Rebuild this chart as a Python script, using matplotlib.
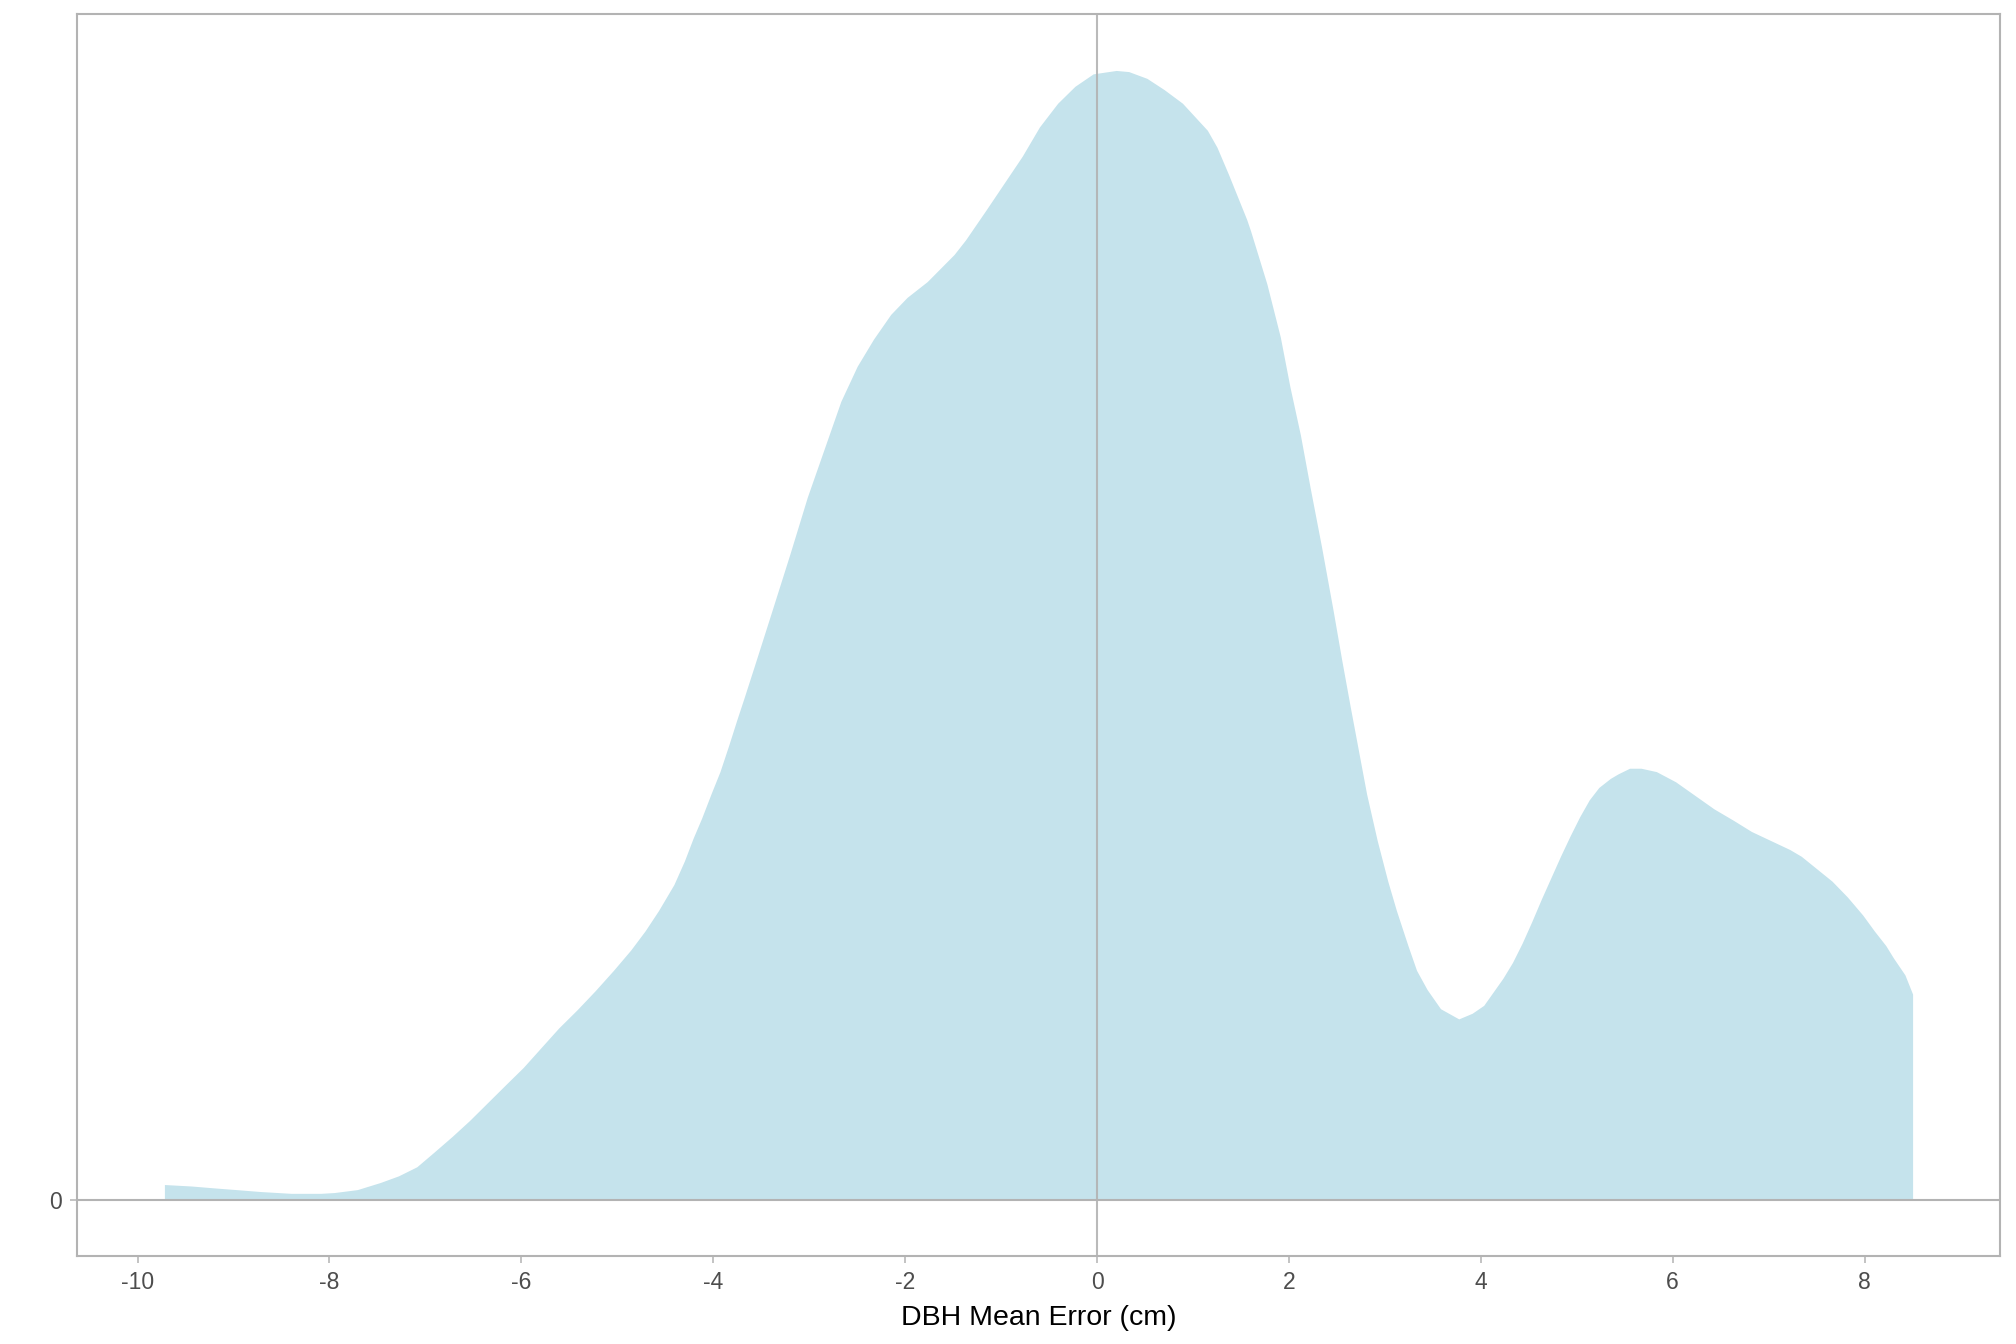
import matplotlib
matplotlib.use("Agg")
import matplotlib.pyplot as plt
import numpy as np

plt.rcParams['font.family'] = ['Liberation Sans', 'DejaVu Sans']

# Density curve of DBH mean error (relative density)
error_cm = [-9.72, -9.44, -9.20, -8.94, -8.72, -8.40, -8.09, -7.95, -7.71, -7.47,
            -7.28, -7.09, -6.91, -6.72, -6.54, -6.35, -6.16, -5.98, -5.79, -5.61,
            -5.42, -5.23, -5.04, -4.86, -4.71, -4.57, -4.41, -4.30, -4.21, -4.12,
            -4.02, -3.93, -3.84, -3.75, -3.68, -3.57, -3.39, -3.20, -3.02, -2.81,
            -2.67, -2.50, -2.33, -2.15, -1.98, -1.77, -1.63, -1.49, -1.37, -1.16,
            -0.97, -0.78, -0.60, -0.41, -0.23, -0.04, 0.20, 0.33, 0.52, 0.70,
            0.89, 1.15, 1.25, 1.37, 1.56, 1.60, 1.77, 1.91, 2.01, 2.12,
            2.22, 2.34, 2.46, 2.55, 2.64, 2.81, 2.92, 3.03, 3.12, 3.24,
            3.33, 3.44, 3.58, 3.77, 3.91, 4.03, 4.13, 4.23, 4.33, 4.43,
            4.53, 4.63, 4.73, 4.83, 4.93, 5.03, 5.13, 5.23, 5.35, 5.43,
            5.55, 5.67, 5.83, 6.03, 6.23, 6.43, 6.63, 6.82, 7.02, 7.22,
            7.34, 7.50, 7.66, 7.82, 7.98, 8.10, 8.22, 8.30, 8.42, 8.50]
density = [0.0133, 0.0120, 0.0103, 0.0086, 0.0071, 0.0055, 0.0055, 0.0062, 0.0088, 0.0151,
           0.021, 0.029, 0.042, 0.056, 0.070, 0.086, 0.102, 0.117, 0.135, 0.152,
           0.168, 0.185, 0.203, 0.221, 0.238, 0.256, 0.279, 0.300, 0.320, 0.338,
           0.360, 0.379, 0.402, 0.426, 0.444, 0.473, 0.521, 0.572, 0.622, 0.673,
           0.707, 0.738, 0.762, 0.784, 0.799, 0.813, 0.825, 0.837, 0.850, 0.876,
           0.900, 0.924, 0.950, 0.971, 0.986, 0.997, 1.000, 0.999, 0.993, 0.983,
           0.971, 0.947, 0.932, 0.908, 0.868, 0.858, 0.811, 0.764, 0.720, 0.677,
           0.631, 0.578, 0.522, 0.478, 0.436, 0.359, 0.318, 0.282, 0.256, 0.225,
           0.203, 0.186, 0.169, 0.160, 0.165, 0.172, 0.184, 0.196, 0.210, 0.227,
           0.246, 0.266, 0.285, 0.304, 0.322, 0.339, 0.354, 0.365, 0.373, 0.377,
           0.382, 0.382, 0.379, 0.370, 0.358, 0.346, 0.336, 0.326, 0.318, 0.310,
           0.304, 0.293, 0.282, 0.268, 0.252, 0.238, 0.225, 0.214, 0.199, 0.182]

x_ticks = [-10, -8, -6, -4, -2, 0, 2, 4, 6, 8]
y_ticks = [0]
x_label = "DBH Mean Error (cm)"

fill_color = "#C5E3EC"
grey = "#B3B3B3"

fig = plt.figure(figsize=(20.16, 13.44), dpi=100)
ax = fig.add_axes([77/2016, 1 - 1256/1344, (2000-77)/2016, (1256-14)/1344])

x = np.array(error_cm)
y = np.array(density)
ax.fill_between(x, 0, y, color=fill_color, linewidth=0, zorder=2)

ax.axhline(0, color=grey, lw=1.5, zorder=3)
ax.axvline(0, color=grey, lw=1.5, zorder=3, alpha=0.9)

xr = x.max() - x.min()
ax.set_xlim(x.min() - 0.05 * xr, x.max() + 0.05 * xr)
ymax = y.max()
ax.set_ylim(-0.05 * ymax, 1.05 * ymax)

ax.set_xticks(x_ticks)
ax.set_xticklabels([str(t) for t in x_ticks])
ax.set_yticks(y_ticks)
ax.set_yticklabels([str(t) for t in y_ticks])

for sp in ax.spines.values():
    sp.set_color(grey)
    sp.set_linewidth(1.5)

ax.tick_params(axis='both', colors=grey, labelcolor="#4D4D4D", labelsize=16.5,
               length=5, width=1.1, pad=6)
ax.set_xlabel(x_label, fontsize=20.5, color="black", labelpad=7.5)
ax.grid(False)

fig.savefig("out.png", dpi=100, facecolor="white")
